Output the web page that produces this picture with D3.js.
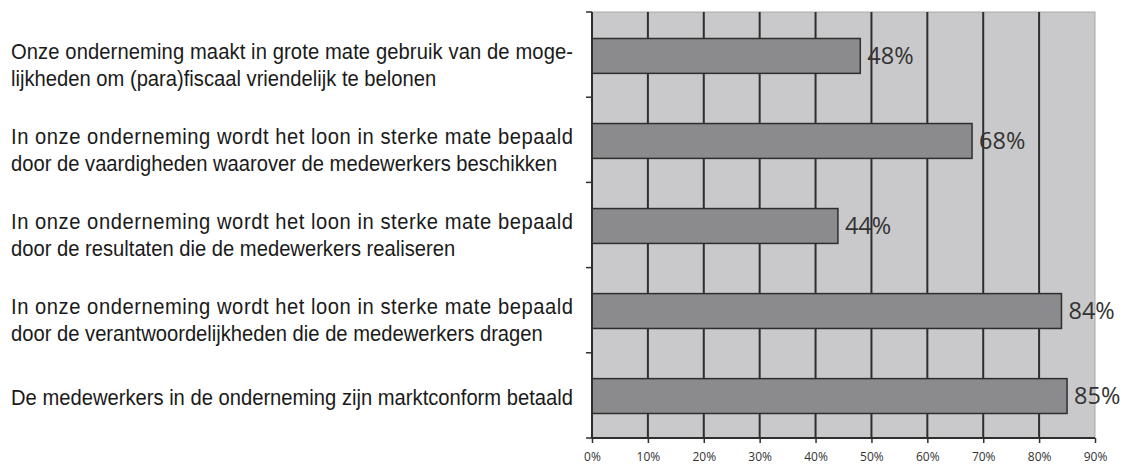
<!DOCTYPE html>
<html>
<head>
<meta charset="utf-8">
<script src="https://cdn.jsdelivr.net/npm/d3@7"></script>
<style>
  body { margin: 0; background: #fff; }
  svg { display: block; }
</style>
</head>
<body>
<script>

// statements (left labels), one array of lines per bar
var statements = [
    ["Onze onderneming maakt in grote mate gebruik van de moge-",
     "lijkheden om (para)fiscaal vriendelijk te belonen"],
    ["In onze onderneming wordt het loon in sterke mate bepaald",
     "door de vaardigheden waarover de medewerkers beschikken"],
    ["In onze onderneming wordt het loon in sterke mate bepaald",
     "door de resultaten die de medewerkers realiseren"],
    ["In onze onderneming wordt het loon in sterke mate bepaald",
     "door de verantwoordelijkheden die de medewerkers dragen"],
    ["De medewerkers in de onderneming zijn marktconform betaald"]
];

var values = [48, 68, 44, 84, 85];

var xTicks = [0, 10, 20, 30, 40, 50, 60, 70, 80, 90];


var width = 1127,
    height = 466,
    plotLeft = 592,
    plotRight = 1095,
    plotTop = 12,
    plotBottom = 438,
    textLeft = 11,
    textRight = 573;

var svg = d3.select("body").append("svg")
    .attr("width", width)
    .attr("height", height);

var x = d3.scaleLinear()
    .domain([0, 90])
    .range([plotLeft, plotRight]);

var y = d3.scaleBand()
    .domain(d3.range(values.length))
    .range([plotTop, plotBottom])
    .paddingInner(0.59)
    .paddingOuter(0.3);

// background of the plot
svg.append("rect")
    .attr("x", plotLeft)
    .attr("y", plotTop)
    .attr("width", plotRight - plotLeft)
    .attr("height", plotBottom - plotTop)
    .attr("fill", "#c9c9cb")
    .attr("stroke", "#a9a9ab")
    .attr("stroke-width", 1);

// vertical grid lines
svg.selectAll(".grid")
    .data(xTicks.filter(function(d) { return d > 0 && d < 90; }))
    .enter().append("line")
    .attr("class", "grid")
    .attr("x1", function(d) { return x(d); })
    .attr("x2", function(d) { return x(d); })
    .attr("y1", plotTop)
    .attr("y2", plotBottom)
    .attr("stroke", "#2e2e2e")
    .attr("stroke-width", 2);

// bars
svg.selectAll(".bar")
    .data(values)
    .enter().append("rect")
    .attr("class", "bar")
    .attr("x", x(0))
    .attr("y", function(d, i) { return y(i) + 1; })
    .attr("width", function(d) { return x(d) - x(0); })
    .attr("height", y.bandwidth())
    .attr("fill", "#8b8b8d")
    .attr("stroke", "#2e2e2e")
    .attr("stroke-width", 1.5);

// value labels
svg.selectAll(".val")
    .data(values)
    .enter().append("text")
    .attr("class", "val")
    .attr("x", function(d) { return x(d) + 7; })
    .attr("y", function(d, i) { return y(i) + 1 + y.bandwidth() / 2 + 8; })
    .attr("font-family", "'Open Sans', sans-serif")
    .attr("font-size", 23.5)
    .attr("fill", "#333")
    .text(function(d) { return d + "%"; });

// x axis
var xAxis = svg.append("g")
    .attr("transform", "translate(0," + plotBottom + ")")
    .call(d3.axisBottom(x)
          .tickValues(xTicks)
          .tickSize(5)
          .tickPadding(9)
          .tickFormat(function(d) { return d + "%"; }));

xAxis.select(".domain")
    .attr("stroke", "#2e2e2e")
    .attr("stroke-width", 2)
    .attr("d", "M" + plotLeft + ",0H" + plotRight);
xAxis.selectAll(".tick line")
    .attr("stroke", "#2e2e2e")
    .attr("stroke-width", 1.5);
xAxis.selectAll(".tick text")
    .attr("font-family", "'Open Sans', sans-serif")
    .attr("font-size", 12)
    .attr("fill", "#333");

// y axis: ticks on the band boundaries
var bounds = d3.range(values.length + 1).map(function(i) {
    return plotTop + i * (plotBottom - plotTop) / values.length;
});

svg.append("line")
    .attr("x1", plotLeft).attr("x2", plotLeft)
    .attr("y1", plotTop).attr("y2", plotBottom)
    .attr("stroke", "#2e2e2e")
    .attr("stroke-width", 2);

svg.selectAll(".ytick")
    .data(bounds)
    .enter().append("line")
    .attr("class", "ytick")
    .attr("x1", plotLeft - 6)
    .attr("x2", plotLeft)
    .attr("y1", function(d) { return d; })
    .attr("y2", function(d) { return d; })
    .attr("stroke", "#2e2e2e")
    .attr("stroke-width", 1.5);

// statements on the left, narrow font made from Liberation Sans
var groups = svg.append("g").selectAll(".stmt")
    .data(statements)
    .enter().append("g")
    .attr("class", "stmt");

groups.each(function(lines, i) {
    var c = y(i) + y.bandwidth() / 2;
    var base = c + 10 - (lines.length - 1) * 6;
    var g = d3.select(this);
    lines.forEach(function(line, j) {
        g.append("text")
            .attr("x", 0)
            .attr("y", base + j * 27)
            .attr("font-family", "'Liberation Sans', Arial, sans-serif")
            .attr("font-size", 22)
            .attr("fill", "#1a1a1a")
            .attr("data-last", j === lines.length - 1 ? 1 : 0)
            .text(line);
    });
});

// squeeze everything so the last statement spans the text column
var ref = groups.filter(function(d, i) { return i === statements.length - 1; })
    .select("text").node().getComputedTextLength();
var k = (textRight - textLeft) / ref;

groups.attr("transform", "translate(" + textLeft + ",0) scale(" + k + ",1)");

// justified lines
groups.selectAll("text")
    .filter(function() { return this.getAttribute("data-last") === "0"; })
    .attr("textLength", (textRight - textLeft) / k)
    .attr("lengthAdjust", "spacing");

</script>
</body>
</html>
